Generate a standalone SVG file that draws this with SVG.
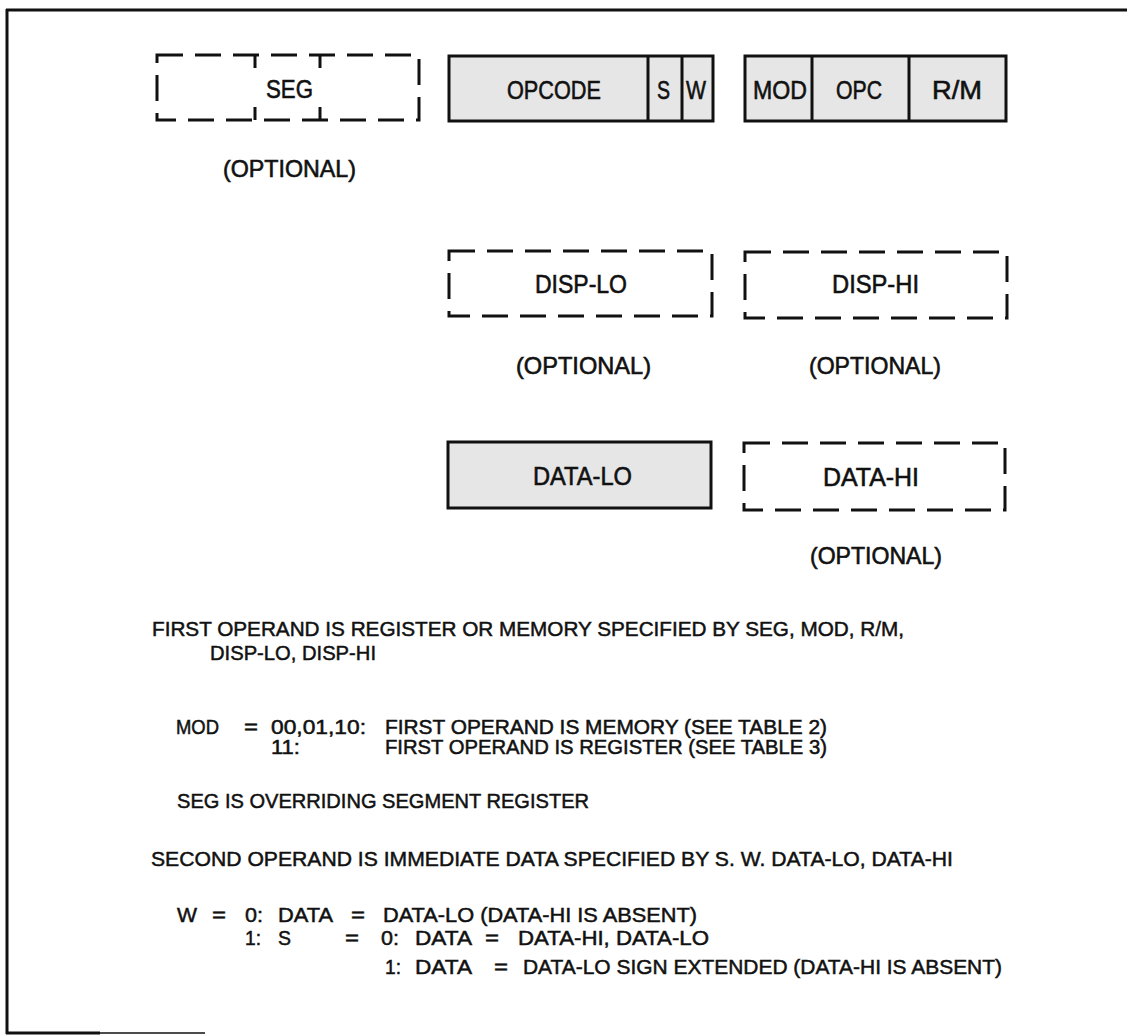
<svg xmlns="http://www.w3.org/2000/svg" width="1127" height="1036" viewBox="0 0 1127 1036">
<style>
.bx{fill:#e6e6e6;stroke:#111;stroke-width:3}
.dx{fill:none;stroke:#111;stroke-width:3;stroke-dasharray:26 12}
.dv{stroke:#111;stroke-width:3}
.lb{font-family:"Liberation Sans Narrow","Liberation Sans",Arial,sans-serif;font-size:26px;fill:#111;stroke:#111;stroke-width:0.6}
.op{font-family:"Liberation Sans Narrow","Liberation Sans",Arial,sans-serif;font-size:24px;fill:#111;stroke:#111;stroke-width:0.6}
.tx{font-family:"Liberation Sans Narrow","Liberation Sans",Arial,sans-serif;font-size:21px;fill:#111;stroke:#111;stroke-width:0.5}
.ts{font-family:"Liberation Sans Narrow","Liberation Sans",Arial,sans-serif;font-size:20px;fill:#111;stroke:#111;stroke-width:0.5}
.fr{stroke:#111;fill:none}
</style>
<rect x="0" y="0" width="1127" height="1036" fill="#ffffff"/>
<g id="frame">
<line class="fr" x1="6" y1="10" x2="1127" y2="10" stroke-width="3"/>
<line class="fr" x1="7" y1="9" x2="7" y2="1034" stroke-width="3"/>
<line class="fr" x1="6" y1="1033" x2="100" y2="1033" stroke-width="3"/>
<line class="fr" x1="100" y1="1033" x2="205" y2="1033" stroke-width="1.5"/>
</g>
<g id="seg">
<rect class="dx" x="157" y="55" width="262" height="65"/>
<line class="dv" x1="255" y1="55" x2="255" y2="68"/>
<line class="dv" x1="320" y1="55" x2="320" y2="68"/>
<line class="dv" x1="255" y1="107" x2="255" y2="120"/>
<line class="dv" x1="320" y1="107" x2="320" y2="120"/>
<text class="lb" x="266" y="98" textLength="47" lengthAdjust="spacingAndGlyphs">SEG</text>
<text class="op" x="223" y="177" textLength="133" lengthAdjust="spacingAndGlyphs">(OPTIONAL)</text>
</g>
<g id="opcode">
<rect class="bx" x="449" y="56" width="264" height="65"/>
<line class="dv" x1="648" y1="56" x2="648" y2="121"/>
<line class="dv" x1="682" y1="56" x2="682" y2="121"/>
<text class="lb" x="507" y="99" textLength="94" lengthAdjust="spacingAndGlyphs">OPCODE</text>
<text class="lb" x="657" y="99" textLength="13" lengthAdjust="spacingAndGlyphs">S</text>
<text class="lb" x="686" y="99" textLength="20" lengthAdjust="spacingAndGlyphs">W</text>
</g>
<g id="modrm">
<rect class="bx" x="745" y="56" width="261" height="65"/>
<line class="dv" x1="812" y1="56" x2="812" y2="121"/>
<line class="dv" x1="909" y1="56" x2="909" y2="121"/>
<text class="lb" x="753" y="99" textLength="54" lengthAdjust="spacingAndGlyphs">MOD</text>
<text class="lb" x="836" y="99" textLength="46" lengthAdjust="spacingAndGlyphs">OPC</text>
<text class="lb" x="932" y="99" textLength="50" lengthAdjust="spacingAndGlyphs">R/M</text>
</g>
<g id="displo">
<rect class="dx" x="449" y="251" width="263" height="65"/>
<text class="lb" x="535" y="293" textLength="92" lengthAdjust="spacingAndGlyphs">DISP-LO</text>
<text class="op" x="516" y="374" textLength="135" lengthAdjust="spacingAndGlyphs">(OPTIONAL)</text>
</g>
<g id="disphi">
<rect class="dx" x="745" y="252" width="262" height="66"/>
<text class="lb" x="832" y="293" textLength="87" lengthAdjust="spacingAndGlyphs">DISP-HI</text>
<text class="op" x="809" y="374" textLength="132" lengthAdjust="spacingAndGlyphs">(OPTIONAL)</text>
</g>
<g id="datalo">
<rect class="bx" x="448" y="442" width="263" height="66"/>
<text class="lb" x="533" y="485" textLength="99" lengthAdjust="spacingAndGlyphs">DATA-LO</text>
</g>
<g id="datahi">
<rect class="dx" x="744" y="443" width="261" height="67"/>
<text class="lb" x="823" y="486" textLength="96" lengthAdjust="spacingAndGlyphs">DATA-HI</text>
<text class="op" x="810" y="564" textLength="132" lengthAdjust="spacingAndGlyphs">(OPTIONAL)</text>
</g>
<g id="connectors"></g>
<g id="notes">
<text class="tx" x="152" y="636" textLength="752" lengthAdjust="spacingAndGlyphs">FIRST OPERAND IS REGISTER OR MEMORY SPECIFIED BY SEG, MOD, R/M,</text>
<text class="tx" x="210" y="660" textLength="166" lengthAdjust="spacingAndGlyphs">DISP-LO, DISP-HI</text>
<text class="ts" x="176" y="734" textLength="43" lengthAdjust="spacingAndGlyphs">MOD</text>
<text class="ts" x="244" y="734" textLength="14" lengthAdjust="spacingAndGlyphs">=</text>
<text class="ts" x="271" y="734" textLength="95" lengthAdjust="spacingAndGlyphs">00,01,10:</text>
<text class="ts" x="385" y="734" textLength="442" lengthAdjust="spacingAndGlyphs">FIRST OPERAND IS MEMORY (SEE TABLE 2)</text>
<text class="ts" x="271" y="754" textLength="29" lengthAdjust="spacingAndGlyphs">11:</text>
<text class="ts" x="385" y="754" textLength="442" lengthAdjust="spacingAndGlyphs">FIRST OPERAND IS REGISTER (SEE TABLE 3)</text>
<text class="tx" x="177" y="808" textLength="412" lengthAdjust="spacingAndGlyphs">SEG IS OVERRIDING SEGMENT REGISTER</text>
<text class="tx" x="151" y="866" textLength="802" lengthAdjust="spacingAndGlyphs">SECOND OPERAND IS IMMEDIATE DATA SPECIFIED BY S. W. DATA-LO, DATA-HI</text>
<text class="tx" x="177" y="922" textLength="20" lengthAdjust="spacingAndGlyphs">W</text>
<text class="tx" x="212" y="922" textLength="14" lengthAdjust="spacingAndGlyphs">=</text>
<text class="tx" x="245" y="922" textLength="18" lengthAdjust="spacingAndGlyphs">0:</text>
<text class="tx" x="278" y="922" textLength="55" lengthAdjust="spacingAndGlyphs">DATA</text>
<text class="tx" x="351" y="922" textLength="14" lengthAdjust="spacingAndGlyphs">=</text>
<text class="tx" x="383" y="922" textLength="314" lengthAdjust="spacingAndGlyphs">DATA-LO (DATA-HI IS ABSENT)</text>
<text class="tx" x="245" y="945" textLength="16" lengthAdjust="spacingAndGlyphs">1:</text>
<text class="tx" x="278" y="945" textLength="13" lengthAdjust="spacingAndGlyphs">S</text>
<text class="tx" x="345" y="945" textLength="14" lengthAdjust="spacingAndGlyphs">=</text>
<text class="tx" x="381" y="945" textLength="18" lengthAdjust="spacingAndGlyphs">0:</text>
<text class="tx" x="415" y="945" textLength="57" lengthAdjust="spacingAndGlyphs">DATA</text>
<text class="tx" x="485" y="945" textLength="14" lengthAdjust="spacingAndGlyphs">=</text>
<text class="tx" x="518" y="945" textLength="191" lengthAdjust="spacingAndGlyphs">DATA-HI, DATA-LO</text>
<text class="tx" x="385" y="974" textLength="16" lengthAdjust="spacingAndGlyphs">1:</text>
<text class="tx" x="415" y="974" textLength="57" lengthAdjust="spacingAndGlyphs">DATA</text>
<text class="tx" x="494" y="974" textLength="14" lengthAdjust="spacingAndGlyphs">=</text>
<text class="tx" x="523" y="974" textLength="479" lengthAdjust="spacingAndGlyphs">DATA-LO SIGN EXTENDED (DATA-HI IS ABSENT)</text>
</g>
</svg>
